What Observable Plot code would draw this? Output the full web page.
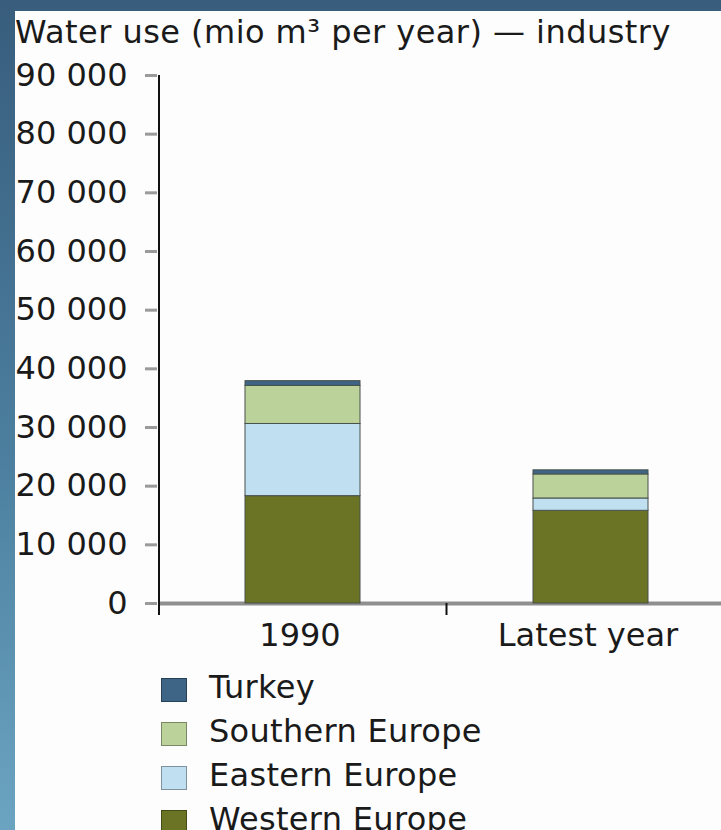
<!DOCTYPE html>
<html>
<head>
<meta charset="utf-8">
<script src="https://cdn.jsdelivr.net/npm/d3@7"></script>
<script src="https://cdn.jsdelivr.net/npm/@observablehq/plot@0.6"></script>
<style>
html, body { margin: 0; padding: 0; }
body {
  width: 721px; height: 830px; overflow: hidden; position: relative;
  background: linear-gradient(to bottom, #385d7d 0%, #4c7f9f 55%, #6ba4c1 100%);
  font-family: "DejaVu Sans", Verdana, sans-serif; color: #1a1a1a;
}
#panel { position: absolute; left: 15px; top: 11px; right: 0; bottom: 0; background: #fdfdfd; }
#title { position: absolute; left: 0px; top: 5px; font-size: 32px; line-height: 32px; letter-spacing: 0.45px; white-space: nowrap; }
#chart { position: absolute; left: 0; top: 44px; }
#legend { position: absolute; left: 146px; top: 657px; }
.row { display: flex; align-items: center; height: 44px; font-size: 32px; line-height: 32px; letter-spacing: 0.3px; white-space: nowrap; }
.sw { width: 24px; height: 22px; border: 1px solid rgba(0,0,0,0.35); margin-right: 22px; box-sizing: content-box; }
.lab { position: relative; top: -3px; }
</style>
</head>
<body>
<div id="panel">
  <div id="title"></div>
  <div id="chart"></div>
  <div id="legend"></div>
</div>
<script>
// ---- Data ----
const titleText = "Water use (mio m³ per year) — industry";
const periods = ["1990", "Latest year"];
const regions = ["Western Europe", "Eastern Europe", "Southern Europe", "Turkey"];
const westernEurope = [18300, 15800];
const easternEurope = [12300, 2100];
const southernEurope = [6500, 4100];
const turkey = [800, 700];
const regionColors = ["#6b7324", "#c0e0f1", "#bcd29b", "#3e6585"];
const yTicks = [0, 10000, 20000, 30000, 40000, 50000, 60000, 70000, 80000, 90000];

const seriesByRegion = {
  "Western Europe": westernEurope,
  "Eastern Europe": easternEurope,
  "Southern Europe": southernEurope,
  "Turkey": turkey
};
const data = [];
periods.forEach((p, i) => regions.forEach(r => data.push({period: p, region: r, value: seriesByRegion[r][i]})));

const fmt = d => d3.format(",")(d).replace(/,/g, " ");

document.getElementById("title").textContent = titleText;

const plot = Plot.plot({
  width: 706,
  height: 610,
  marginTop: 20,
  marginBottom: 62,
  marginLeft: 144,
  marginRight: 0,
  style: {
    fontFamily: '"DejaVu Sans", Verdana, sans-serif',
    fontSize: "32px",
    color: "#1a1a1a",
    background: "transparent",
    overflow: "hidden"
  },
  x: {domain: periods, range: [144, 720], paddingInner: 0.6, paddingOuter: 0.3, label: null},
  y: {domain: [0, 90000], label: null},
  color: {domain: regions, range: regionColors},
  marks: [
    Plot.ruleY([0], {stroke: "#8f8f8f", strokeWidth: 4}),
    Plot.barY(data, {x: "period", y: "value", fill: "region", stroke: "#46514a", strokeWidth: 1}),
    Plot.axisY({ticks: yTicks, tickFormat: fmt, tickSize: 12, tickPadding: 18, dx: -2, stroke: "#9a9a9a", strokeWidth: 3, label: null}),
    Plot.axisX({tickSize: 0, tickPadding: 20, dx: -3, label: null})
  ]
});

// y-axis domain line and category separator ticks, from Plot's own scales
const svg = d3.select(plot);
const xs = plot.scale("x"), ys = plot.scale("y");
const x0 = xs.range[0];
const yTop = ys.apply(d3.max(yTicks));
const yBase = ys.apply(0);
const tickLen = 12;
svg.append("line")
  .attr("x1", x0).attr("x2", x0)
  .attr("y1", yTop).attr("y2", yBase + tickLen)
  .attr("stroke", "#111").attr("stroke-width", 2);
const step = xs.apply(periods[1]) - xs.apply(periods[0]);
const gap = step - xs.bandwidth;
periods.slice(1).forEach(p => {
  const bx = xs.apply(p) - gap / 2;
  svg.append("line")
    .attr("x1", bx).attr("x2", bx)
    .attr("y1", yBase).attr("y2", yBase + tickLen)
    .attr("stroke", "#111").attr("stroke-width", 2);
});

document.getElementById("chart").appendChild(plot);

// Legend (top-down: reverse of stacking order)
const legend = document.getElementById("legend");
regions.slice().reverse().forEach(r => {
  const row = document.createElement("div");
  row.className = "row";
  const sw = document.createElement("div");
  sw.className = "sw";
  sw.style.background = regionColors[regions.indexOf(r)];
  const lab = document.createElement("span");
  lab.className = "lab";
  lab.textContent = r;
  row.appendChild(sw);
  row.appendChild(lab);
  legend.appendChild(row);
});
</script>
</body>
</html>
